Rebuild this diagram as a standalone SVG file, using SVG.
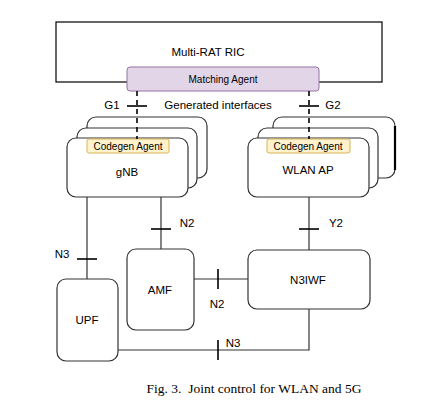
<svg xmlns="http://www.w3.org/2000/svg" width="426" height="413" viewBox="0 0 426 413">
<style>
.box{fill:#fff;stroke:#333;stroke-width:1.2}
.ln{fill:none;stroke:#333;stroke-width:1.2}
.tick{fill:none;stroke:#000;stroke-width:1.6}
.dash{fill:none;stroke:#000;stroke-width:1.6;stroke-dasharray:5,4}
.t{font-family:"Liberation Sans",Arial,sans-serif;font-size:11.5px;fill:#000;text-anchor:middle;dominant-baseline:central}
.s{font-family:"Liberation Sans",Arial,sans-serif;font-size:10px;fill:#000;text-anchor:middle;dominant-baseline:central}
.agentY{fill:#fff2cc;stroke:#d6b656;stroke-width:1}
.agentP{fill:#e1d5e7;stroke:#9673a6;stroke-width:1}
</style>
<rect width="426" height="413" fill="#fff"/>
<g id="ric">
<rect x="56" y="22" width="326" height="60" fill="#fff" stroke="#000" stroke-width="1.2"/>
<text class="t" x="208" y="52">Multi-RAT RIC</text>
</g>
<g id="matching-agent">
<rect class="agentP" x="127" y="67" width="192" height="24" rx="3"/>
<text class="s" x="223" y="79">Matching Agent</text>
</g>
<g id="gnb">
<rect class="box" x="87" y="117" width="120" height="61" rx="9"/>
<rect class="box" x="77" y="128" width="120" height="60" rx="9"/>
<rect class="box" x="67" y="138" width="121" height="59" rx="9"/>
<text class="t" x="127" y="172">gNB</text>
</g>
<g id="gnb-agent">
<rect class="agentY" x="87" y="139" width="82" height="14" rx="2"/>
<text class="s" x="128" y="146">Codegen Agent</text>
</g>
<g id="wlan">
<rect class="box" x="273" y="117" width="122" height="61" rx="9"/>
<line x1="395" y1="126" x2="395" y2="170" stroke="#000" stroke-width="2.2"/>
<rect class="box" x="258" y="128" width="120" height="60" rx="9"/>
<rect class="box" x="248" y="138" width="121" height="59" rx="9"/>
<text class="t" x="308" y="170">WLAN AP</text>
</g>
<g id="wlan-agent">
<rect class="agentY" x="267" y="139" width="83" height="14" rx="2"/>
<text class="s" x="308" y="146">Codegen Agent</text>
</g>
<g id="upf">
<rect class="box" x="57" y="279" width="61" height="82" rx="9"/>
<text class="t" x="87" y="320">UPF</text>
</g>
<g id="amf">
<rect class="box" x="127" y="249" width="67" height="81" rx="9"/>
<text class="t" x="160" y="290">AMF</text>
</g>
<g id="n3iwf">
<rect class="box" x="248" y="250" width="122" height="59" rx="9"/>
<text class="t" x="308" y="280">N3IWF</text>
</g>
<g id="connectors">
<line class="dash" x1="137" y1="91" x2="137" y2="139"/>
<line class="dash" x1="309" y1="91" x2="309" y2="139"/>
<line class="tick" x1="127" y1="106" x2="147" y2="106"/>
<line class="tick" x1="299" y1="106" x2="319" y2="106"/>
<line class="ln" x1="87" y1="197" x2="87" y2="279"/>
<line class="tick" x1="77" y1="259" x2="97" y2="259"/>
<line class="ln" x1="161" y1="197" x2="161" y2="249"/>
<line class="tick" x1="151" y1="229" x2="171" y2="229"/>
<line class="ln" x1="309" y1="197" x2="309" y2="250"/>
<line class="tick" x1="299" y1="229" x2="319" y2="229"/>
<line class="ln" x1="194" y1="279" x2="248" y2="279"/>
<line class="tick" x1="218" y1="269" x2="218" y2="289"/>
<polyline class="ln" points="118,350 309,350 309,309"/>
<line class="tick" x1="218" y1="340" x2="218" y2="360"/>
</g>
<g id="labels">
<text class="t" x="112" y="105">G1</text>
<text class="t" x="218" y="105">Generated interfaces</text>
<text class="t" x="333" y="105">G2</text>
<text class="t" x="62" y="254">N3</text>
<text class="t" x="187" y="223">N2</text>
<text class="t" x="336" y="223">Y2</text>
<text class="t" x="217" y="304">N2</text>
<text class="t" x="233" y="343">N3</text>
</g>
<text x="254" y="393" font-family="'Liberation Serif','Times New Roman',serif" font-size="13.5" text-anchor="middle" fill="#000" xml:space="preserve">Fig. 3.  Joint control for WLAN and 5G</text>
</svg>
